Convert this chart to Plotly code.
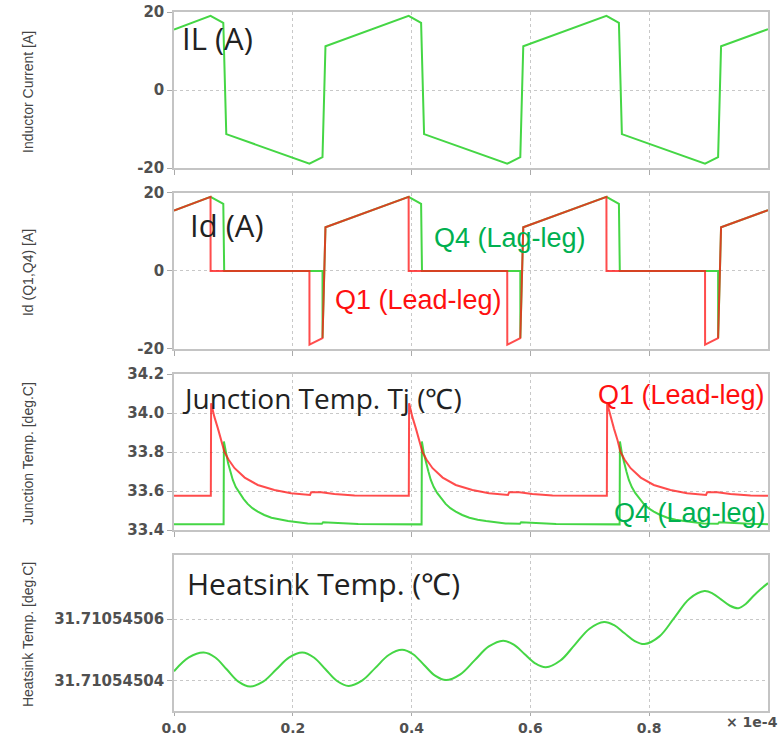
import plotly.graph_objects as go
from plotly.subplots import make_subplots

# ---------------- data (time in units of 1e-4 s) ----------------
il_t = [0.000, 0.0615, 0.083, 0.088, 0.228, 0.250, 0.255, 0.395, 0.416, 0.421,
        0.561, 0.583, 0.588, 0.728, 0.749, 0.754, 0.894, 0.916, 0.921, 1.000]
il_v = [15.5, 19.0, 17.2, -11.3, -18.9, -17.2, 11.2, 19.0, 17.2, -11.3,
        -18.9, -17.2, 11.2, 19.0, 17.2, -11.3, -18.9, -17.2, 11.2, 15.6]

q1_id_t = [0.000, 0.0615, 0.0616, 0.228, 0.2281, 0.250, 0.255, 0.395, 0.3951, 0.561,
           0.5611, 0.583, 0.588, 0.728, 0.7281, 0.894, 0.8941, 0.916, 0.921, 1.000]
q1_id_v = [15.5, 19.0, 0.0, 0.0, -18.9, -17.2, 11.2, 19.0, 0.0, 0.0,
           -18.9, -17.2, 11.2, 19.0, 0.0, 0.0, -18.9, -17.2, 11.2, 15.6]

q4_id_t = [0.000, 0.0615, 0.083, 0.0845, 0.250, 0.2501, 0.255, 0.395, 0.416, 0.4175,
           0.583, 0.5831, 0.588, 0.728, 0.749, 0.7505, 0.916, 0.9161, 0.921, 1.000]
q4_id_v = [15.5, 19.0, 17.2, 0.0, 0.0, -17.2, 11.2, 19.0, 17.2, 0.0,
           0.0, -17.2, 11.2, 19.0, 17.2, 0.0, 0.0, -17.2, 11.2, 15.6]

q1_tj_t = [0.000, 0.062, 0.0625, 0.068, 0.074, 0.080, 0.085, 0.092, 0.102, 0.119,
           0.141, 0.169, 0.197, 0.229, 0.231, 0.248, 0.270, 0.304,
           0.3953, 0.3958, 0.4013, 0.4073, 0.4133, 0.4183, 0.4253, 0.4353, 0.4523,
           0.4743, 0.5023, 0.5303, 0.5623, 0.5643, 0.5813, 0.6033, 0.6373,
           0.7287, 0.7292, 0.7347, 0.7407, 0.7467, 0.7517, 0.7587, 0.7687, 0.7857,
           0.8077, 0.8357, 0.8637, 0.8957, 0.8977, 0.9147, 0.9367, 0.9707, 1.000]
q1_tj_v = [33.576, 33.576, 34.050, 33.980, 33.920, 33.860, 33.800, 33.760, 33.717, 33.669,
           33.631, 33.605, 33.589, 33.580, 33.594, 33.594, 33.585, 33.577,
           33.576, 34.050, 33.980, 33.920, 33.860, 33.800, 33.760, 33.717, 33.669,
           33.631, 33.605, 33.589, 33.580, 33.594, 33.594, 33.585, 33.577,
           33.576, 34.050, 33.980, 33.920, 33.860, 33.800, 33.760, 33.717, 33.669,
           33.631, 33.605, 33.589, 33.580, 33.594, 33.594, 33.585, 33.577, 33.576]

q4_tj_t = [0.000, 0.0835, 0.0840, 0.0875, 0.091, 0.095, 0.099, 0.104, 0.110, 0.117,
           0.124, 0.132, 0.141, 0.152, 0.164, 0.178, 0.192, 0.225, 0.249, 0.251, 0.270, 0.310,
           0.4168, 0.4173, 0.4208, 0.4243, 0.4283, 0.4323, 0.4373, 0.4433, 0.4503,
           0.4573, 0.4653, 0.4743, 0.4853, 0.4973, 0.5113, 0.5253, 0.5583, 0.5823, 0.5843,
           0.6033, 0.6433,
           0.7502, 0.7507, 0.7542, 0.7577, 0.7617, 0.7657, 0.7707, 0.7767, 0.7837,
           0.7907, 0.7987, 0.8077, 0.8187, 0.8307, 0.8447, 0.8587, 0.8917, 0.9157, 0.9177,
           0.9367, 0.9767, 1.000]
q4_tj_v = [33.429, 33.429, 33.854, 33.790, 33.743, 33.700, 33.657, 33.620, 33.589, 33.560,
           33.534, 33.512, 33.494, 33.477, 33.463, 33.453, 33.446, 33.434, 33.432, 33.440, 33.436, 33.431,
           33.429, 33.854, 33.790, 33.743, 33.700, 33.657, 33.620, 33.589, 33.560,
           33.534, 33.512, 33.494, 33.477, 33.463, 33.453, 33.446, 33.434, 33.432, 33.440,
           33.436, 33.431,
           33.429, 33.854, 33.790, 33.743, 33.700, 33.657, 33.620, 33.589, 33.560,
           33.534, 33.512, 33.494, 33.477, 33.463, 33.453, 33.446, 33.434, 33.432, 33.440,
           33.436, 33.431, 33.430]

hs_t = [0.000, 0.025, 0.050, 0.0695, 0.089, 0.1085, 0.128, 0.150, 0.172, 0.194,
        0.216, 0.2355, 0.255, 0.2745, 0.294, 0.3165, 0.339, 0.3615, 0.384, 0.4025,
        0.421, 0.4395, 0.458, 0.482, 0.506, 0.530, 0.554, 0.572, 0.590, 0.608,
        0.626, 0.6505, 0.675, 0.6995, 0.724, 0.741, 0.758, 0.775, 0.792, 0.81725,
        0.8425, 0.86775, 0.893, 0.907, 0.9215, 0.936, 0.950, 0.9625, 0.975, 0.9875,
        1.000]
hs_v = [31.7105450430, 31.7105450475, 31.7105450491, 31.7105450475, 31.71054504355,
        31.7105450396, 31.7105450380, 31.7105450396, 31.71054504355, 31.7105450475,
        31.7105450491, 31.7105450475, 31.71054504365, 31.7105450398, 31.7105450382,
        31.7105450399, 31.7105450441, 31.7105450483, 31.7105450500, 31.71054504855,
        31.71054504505, 31.71054504155, 31.7105450401, 31.7105450420, 31.71054504655,
        31.7105450511, 31.7105450530, 31.7105450517, 31.71054504865, 31.7105450456,
        31.7105450443, 31.7105450465, 31.7105450517, 31.7105450569, 31.7105450591,
        31.71054505805, 31.7105450555, 31.71054505295, 31.7105450519, 31.7105450544,
        31.71054506055, 31.7105450667, 31.7105450692, 31.7105450684, 31.7105450664,
        31.7105450644, 31.7105450636, 31.7105450650, 31.7105450675, 31.7105450698,
        31.7105450718]

x_ticks = [0.0, 0.2, 0.4, 0.6, 0.8]
x_ticklabels = ["0.0", "0.2", "0.4", "0.6", "0.8"]
i_ticks = [-20, 0, 20]
i_ticklabels = ["-20", "0", "20"]
tj_ticks = [33.4, 33.6, 33.8, 34.0, 34.2]
tj_ticklabels = ["33.4", "33.6", "33.8", "34.0", "34.2"]
hs_ticks = [31.71054504, 31.71054506]
hs_ticklabels = ["31.71054504", "31.71054506"]

# ---------------- figure ----------------
GREEN = "#45d645"
RED = "rgba(255,25,25,0.78)"

fig = make_subplots(rows=4, cols=1, shared_xaxes=True)
fig.add_trace(go.Scatter(x=il_t, y=il_v, mode="lines", line=dict(color=GREEN, width=2)), row=1, col=1)
fig.add_trace(go.Scatter(x=q4_id_t, y=q4_id_v, mode="lines", line=dict(color=GREEN, width=2)), row=2, col=1)
fig.add_trace(go.Scatter(x=q1_id_t, y=q1_id_v, mode="lines", line=dict(color=RED, width=2)), row=2, col=1)
fig.add_trace(go.Scatter(x=q4_tj_t, y=q4_tj_v, mode="lines", line=dict(color=GREEN, width=2)), row=3, col=1)
fig.add_trace(go.Scatter(x=q1_tj_t, y=q1_tj_v, mode="lines", line=dict(color=RED, width=2)), row=3, col=1)
fig.add_trace(go.Scatter(x=hs_t, y=hs_v, mode="lines",
                         line=dict(color=GREEN, width=2, shape="spline", smoothing=1.0)), row=4, col=1)

tickfont = dict(family="DejaVu Sans", size=15, color="#505050", weight="bold")
xtickfont = dict(family="DejaVu Sans", size=14, color="#505050", weight="bold")
common_ax = dict(showline=True, mirror=True, linecolor="#c4c4c4", linewidth=1.5,
                 showgrid=True, gridcolor="#c8c8c8", griddash="dot", gridwidth=1,
                 zeroline=False, ticks="outside", ticklen=5, tickcolor="#aaaaaa")

domains = [[0.7768, 1.0], [0.5179, 0.7411], [0.2589, 0.4821], [0.0, 0.2232]]
for i in range(4):
    xa = "xaxis" if i == 0 else f"xaxis{i+1}"
    ya = "yaxis" if i == 0 else f"yaxis{i+1}"
    fig.layout[xa].update(range=[0, 1], tickvals=x_ticks, ticktext=x_ticklabels,
                          showticklabels=(i == 3), tickfont=xtickfont, **common_ax)
    fig.layout[ya].update(domain=domains[i], tickfont=tickfont, **common_ax)
fig.layout.xaxis4.update(ticklen=3)

fig.layout.yaxis.update(range=[-20, 20], tickvals=i_ticks, ticktext=i_ticklabels)
fig.layout.yaxis2.update(range=[-20, 20], tickvals=i_ticks, ticktext=i_ticklabels)
fig.layout.yaxis3.update(range=[33.4, 34.2], tickvals=tj_ticks, ticktext=tj_ticklabels)
fig.layout.yaxis4.update(range=[31.71054503, 31.710545081], tickvals=hs_ticks, ticktext=hs_ticklabels)

ann = []
ytitle_font = dict(family="Liberation Sans", size=14, color="#444444")
for text, yc in [("Inductor Current [A]", 0.8856), ("Id (Q1,Q4) [A]", 0.628),
                 ("Junction Temp. [deg.C]", 0.369), ("Heatsink Temp. [deg.C]", 0.110)]:
    ann.append(dict(text=text, x=-0.2458, y=yc, xref="paper", yref="paper",
                    textangle=-90, showarrow=False, font=ytitle_font,
                    xanchor="center", yanchor="middle"))

for text, xl, yc, fs in [("IL (A)", 0.0101, 0.9628, 31), ("Id (A)", 0.0236, 0.6953, 31),
                         ("Junction Temp. Tj (℃)", 0.0101, 0.4478, 28),
                         ("Heatsink Temp. (℃)", 0.0185, 0.1831, 30)]:
    ann.append(dict(text=text, x=xl, y=yc, xref="paper", yref="paper", showarrow=False,
                    font=dict(family="Open Sans", size=fs, color="#222222"),
                    xanchor="left", yanchor="middle"))

lab_font_g = dict(family="Liberation Sans", size=27, color="#00b050")
lab_font_r = dict(family="Liberation Sans", size=27, color="#ff1010")
ann.append(dict(text="Q4 (Lag-leg)", x=0.4343, y=0.6767, xref="paper", yref="paper",
                showarrow=False, font=lab_font_g, xanchor="left", yanchor="middle"))
ann.append(dict(text="Q1 (Lead-leg)", x=0.2677, y=0.588, xref="paper", yref="paper",
                showarrow=False, font=lab_font_r, xanchor="left", yanchor="middle"))
ann.append(dict(text="Q1 (Lead-leg)", x=0.9983, y=0.4521, xref="paper", yref="paper",
                showarrow=False, font=lab_font_r, xanchor="right", yanchor="middle"))
ann.append(dict(text="Q4 (Lag-leg)", x=0.7374, y=0.2833, xref="paper", yref="paper",
                showarrow=False, font=lab_font_g, xanchor="left", yanchor="middle"))
ann.append(dict(text="× 1e-4", x=1.0202, y=-0.0157, xref="paper", yref="paper",
                showarrow=False, font=xtickfont, xanchor="right", yanchor="middle"))

fig.update_layout(width=782, height=736, showlegend=False,
                  margin=dict(l=174, r=14, t=12, b=25, autoexpand=False),
                  paper_bgcolor="white", plot_bgcolor="white",
                  annotations=ann)

fig.write_html("out.html", config={"displayModeBar": False},
               post_script="document.body.style.margin='0px';")
